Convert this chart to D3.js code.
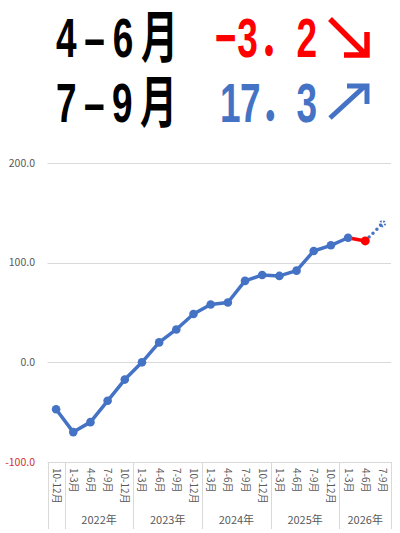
<!DOCTYPE html>
<html>
<head>
<meta charset="utf-8">
<script src="https://cdn.jsdelivr.net/npm/d3@7"></script>
<style>
  html, body { margin: 0; padding: 0; background: #fff; }
  svg { display: block; }
</style>
</head>
<body>
<svg id="chart"></svg>
<script>
// ─── data ────────────────────────────────────────
const quarterLabels = ["10-12月",
  "1-3月", "4-6月", "7-9月", "10-12月",
  "1-3月", "4-6月", "7-9月", "10-12月",
  "1-3月", "4-6月", "7-9月", "10-12月",
  "1-3月", "4-6月", "7-9月", "10-12月",
  "1-3月", "4-6月", "7-9月"];
const yearLabels = ["", "2022年", "2023年", "2024年", "2025年", "2026年"];
const yearSizes  = [1, 4, 4, 4, 4, 3];
const values = [-47, -70, -60, -38.6, -17.3, 0, 20, 33, 48.5, 58, 60, 81.7,
  87.7, 86.7, 92, 111.7, 117.4, 125, 121.8, 139.1];
const yTicks = [-100, 0, 100, 200];
const headPeriods = ["4–6月", "7–9月"];
const headValues  = ["−3．2", "17．3"];

const W = 400, H = 533;
const BLUE = "#4472c4", RED = "#ff0000", GRID = "#d9d9d9", TXT = "#595959";

const svg = d3.select("#chart").attr("width", W).attr("height", H);
svg.append("rect").attr("width", W).attr("height", H).attr("fill", "#fff");

// ─── headline ────────────────────────────────────
const head = svg.append("g")
  .attr("font-family", "'Liberation Sans', Arial, 'Noto Sans CJK JP', sans-serif")
  .attr("font-weight", "bold");
const sx = 0.66;
const headRows = [
  { y: 57,  period: headPeriods[0], pw: 122, val: headValues[0], vx: 215, vw: 102, color: RED },
  { y: 122, period: headPeriods[1], pw: 121, val: headValues[1], vx: 220, vw: 97,  color: BLUE }
];
headRows.forEach(r => {
  head.append("text")
    .attr("transform", `translate(56,${r.y}) scale(${sx},1)`)
    .attr("font-size", 56).attr("fill", "#000")
    .attr("textLength", r.pw / sx).attr("lengthAdjust", "spacing")
    .text(r.period);
  head.append("text")
    .attr("transform", `translate(${r.vx},${r.y}) scale(${sx},1)`)
    .attr("font-size", 56).attr("fill", r.color)
    .attr("textLength", r.vw / sx).attr("lengthAdjust", "spacing")
    .text(r.val);
});

// arrows
const arrows = svg.append("g").attr("fill", "none").attr("stroke-linecap", "butt");
arrows.append("path")
  .attr("d", "M330,19 L365,54 M344,55 L367,55 L367,32")
  .attr("stroke", RED).attr("stroke-width", 5.5);
arrows.append("path")
  .attr("d", "M330,118 L365,86 M347,86 L367,86 L367,104")
  .attr("stroke", BLUE).attr("stroke-width", 5);

// ─── chart ───────────────────────────────────────
const x = d3.scaleBand().domain(d3.range(values.length)).range([47.5, 391]);
const y = d3.scaleLinear().domain([-100, 200]).range([462, 163]);
const cx = i => x(i) + x.bandwidth() / 2;

const font = "'Noto Sans CJK JP', 'Noto Sans', sans-serif";

// gridlines
svg.append("g").selectAll("line").data(yTicks).join("line")
  .attr("x1", 47.5).attr("x2", 391)
  .attr("y1", d => Math.round(y(d)) + 0.5).attr("y2", d => Math.round(y(d)) + 0.5)
  .attr("stroke", GRID).attr("stroke-width", 1);

// y labels
svg.append("g").selectAll("text").data(yTicks).join("text")
  .attr("x", 35).attr("y", d => y(d))
  .attr("dy", "0.35em").attr("text-anchor", "end")
  .attr("font-family", font).attr("font-size", 10.5)
  .attr("fill", d => d < 0 ? "#cc3333" : TXT)
  .text(d => d3.format(".1f")(d).replace("−", "-"));

// category dividers
const bounds = [0];
yearSizes.forEach(s => bounds.push(bounds[bounds.length - 1] + s));
svg.append("g").selectAll("line").data(bounds).join("line")
  .attr("x1", d => Math.round(x(d) ?? x.range()[1]) + 0.5)
  .attr("x2", d => Math.round(x(d) ?? x.range()[1]) + 0.5)
  .attr("y1", 462).attr("y2", 529)
  .attr("stroke", GRID).attr("stroke-width", 1);

// quarter labels (rotated)
svg.append("g").selectAll("text").data(quarterLabels).join("text")
  .attr("transform", (d, i) => `translate(${cx(i)},468) rotate(90)`)
  .attr("dy", "0.35em")
  .attr("font-family", font).attr("font-size", 10)
  .attr("fill", TXT)
  .text(d => d);

// year labels
svg.append("g").selectAll("text").data(yearLabels).join("text")
  .attr("x", (d, i) => {
    const a = x(bounds[i]);
    const b = x(bounds[i + 1]) ?? x.range()[1];
    return (a + b) / 2;
  })
  .attr("y", 520).attr("dy", "0.35em").attr("text-anchor", "middle")
  .attr("font-family", font).attr("font-size", 11)
  .attr("fill", TXT)
  .text(d => d);

// series
const idx = d3.range(values.length);
const lastBlue = 17, lastRed = 18;
const line = d3.line().x(i => cx(i)).y(i => y(values[i]));

svg.append("path")
  .attr("d", line(idx.slice(0, lastBlue + 1)))
  .attr("fill", "none").attr("stroke", BLUE).attr("stroke-width", 3.5)
  .attr("stroke-linejoin", "round");
svg.append("path")
  .attr("d", line(idx.slice(lastBlue, lastRed + 1)))
  .attr("fill", "none").attr("stroke", RED).attr("stroke-width", 3.5);
svg.append("path")
  .attr("d", line(idx.slice(lastRed)))
  .attr("fill", "none").attr("stroke", BLUE).attr("stroke-width", 3.5)
  .attr("stroke-linecap", "round").attr("stroke-dasharray", "0,5.5");

svg.append("g").selectAll("circle").data(idx.slice(0, lastBlue + 1)).join("circle")
  .attr("cx", i => cx(i)).attr("cy", i => y(values[i]))
  .attr("r", 4.3).attr("fill", BLUE);
svg.append("circle")
  .attr("cx", cx(lastRed)).attr("cy", y(values[lastRed]))
  .attr("r", 4.5).attr("fill", RED);
svg.append("circle")
  .attr("cx", cx(values.length - 1)).attr("cy", y(values[values.length - 1]))
  .attr("r", 2.6).attr("fill", "none").attr("stroke", BLUE).attr("stroke-width", 2)
  .attr("stroke-dasharray", "1.6,1.6");
</script>
</body>
</html>
